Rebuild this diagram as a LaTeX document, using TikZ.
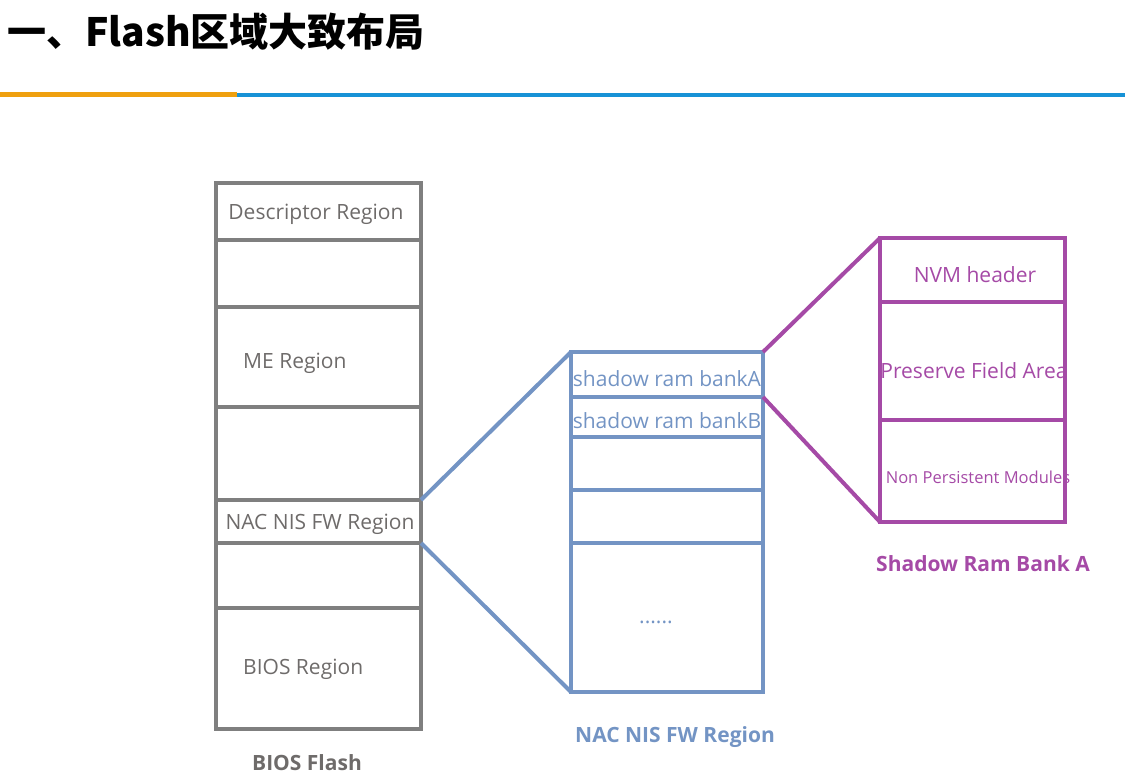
\documentclass[tikz,border=0pt]{standalone}
\usepackage{fontspec}
\usepackage{tikz}
\setmainfont{Open Sans}
\newfontfamily\cjk{Noto Sans CJK SC}

\definecolor{flashgray}{HTML}{7F7F7F}
\definecolor{flashtext}{HTML}{6E6B6A}
\definecolor{fwblue}{HTML}{7394C4}
\definecolor{bankpurple}{HTML}{A54AA6}
\definecolor{barorange}{HTML}{EFA00F}
\definecolor{barblue}{HTML}{1792D6}

\begin{document}
\begin{tikzpicture}[x=1pt,y=-1pt,
  gcell/.style={draw=flashgray,line width=4pt,outer sep=0pt,inner sep=0pt,anchor=north west,minimum width=205},
  bcell/.style={draw=fwblue,line width=4pt,outer sep=0pt,inner sep=0pt,anchor=north west,minimum width=192},
  pcell/.style={draw=bankpurple,line width=4pt,outer sep=0pt,inner sep=0pt,anchor=north west,minimum width=185},
  gtext/.style={text=flashtext,font=\fontsize{21}{23}\selectfont,inner sep=0pt},
  btext/.style={text=fwblue,font=\fontsize{21}{23}\selectfont,inner sep=0pt},
  ptext/.style={text=bankpurple,font=\fontsize{21}{23}\selectfont,inner sep=0pt},
  caption/.style={font=\bfseries\fontsize{21}{23}\selectfont,inner sep=0pt}]
%\draw[step=50,gray,very thin] (0,0) grid (1125,780);

\useasboundingbox (0,0) rectangle (1125,780);

\node[anchor=west,inner sep=0pt,font=\cjk\bfseries\fontsize{39}{41}\selectfont] (title) at (7,32) {一、Flash区域大致布局};

\fill[barorange] (0,92) rectangle (237,97);
\fill[barblue] (237,93) rectangle (1125,97);

% BIOS Flash
\node[gcell,minimum height=57] (desc) at (216,183) {};
\node[gcell,minimum height=67] (gap1) at (216,240) {};
\node[gcell,minimum height=100] (me) at (216,307) {};
\node[gcell,minimum height=93] (gap2) at (216,407) {};
\node[gcell,minimum height=43] (nac) at (216,500) {};
\node[gcell,minimum height=65] (gap3) at (216,543) {};
\node[gcell,minimum height=121] (bios) at (216,608) {};

\node[gtext] (desc-t) at (316,214) {Descriptor Region};
\node[gtext,anchor=west] (me-t) at (243,363) {ME Region};
\node[gtext] (nac-t) at (320,524) {NAC NIS FW Region};
\node[gtext,anchor=west] (bios-t) at (243,669) {BIOS Region};

\node[caption,text=flashtext] (flash-t) at (307,763) {BIOS Flash};

% NAC NIS FW Region
\node[bcell,minimum height=45] (banka) at (571,352) {};
\node[bcell,minimum height=40] (bankb) at (571,397) {};
\node[bcell,minimum height=53] (fw1) at (571,437) {};
\node[bcell,minimum height=53] (fw2) at (571,490) {};
\node[bcell,minimum height=149] (fw3) at (571,543) {};

\node[btext] (banka-t) at (667,379) {shadow ram bankA};
\node[btext] (bankb-t) at (667,421) {shadow ram bankB};
\node[btext] (dots-t) at (656,622) {......};

\node[caption,text=fwblue] (fw-t) at (675,737) {NAC NIS FW Region};

\draw[fwblue,line width=4pt] (nac.north east) -- (banka.north west);
\draw[fwblue,line width=4pt] (nac.south east) -- (fw3.south west);

% Shadow Ram Bank A
\node[pcell,minimum height=64] (nvm) at (880,238) {};
\node[pcell,minimum height=118] (pfa) at (880,302) {};
\node[pcell,minimum height=102] (npm) at (880,420) {};

\node[ptext] (nvm-t) at (975,275) {NVM header};
\node[ptext] (pfa-t) at (974,371) {Preserve Field Area};
\node[ptext,font=\fontsize{16.5}{18}\selectfont] (npm-t) at (978,477) {Non Persistent Modules};

\node[caption,text=bankpurple] (bank-t) at (983,564) {Shadow Ram Bank A};

\draw[bankpurple,line width=4pt] (banka.north east) -- (nvm.north west);
\draw[bankpurple,line width=4pt] (banka.south east) -- (npm.south west);

\end{tikzpicture}
\end{document}
